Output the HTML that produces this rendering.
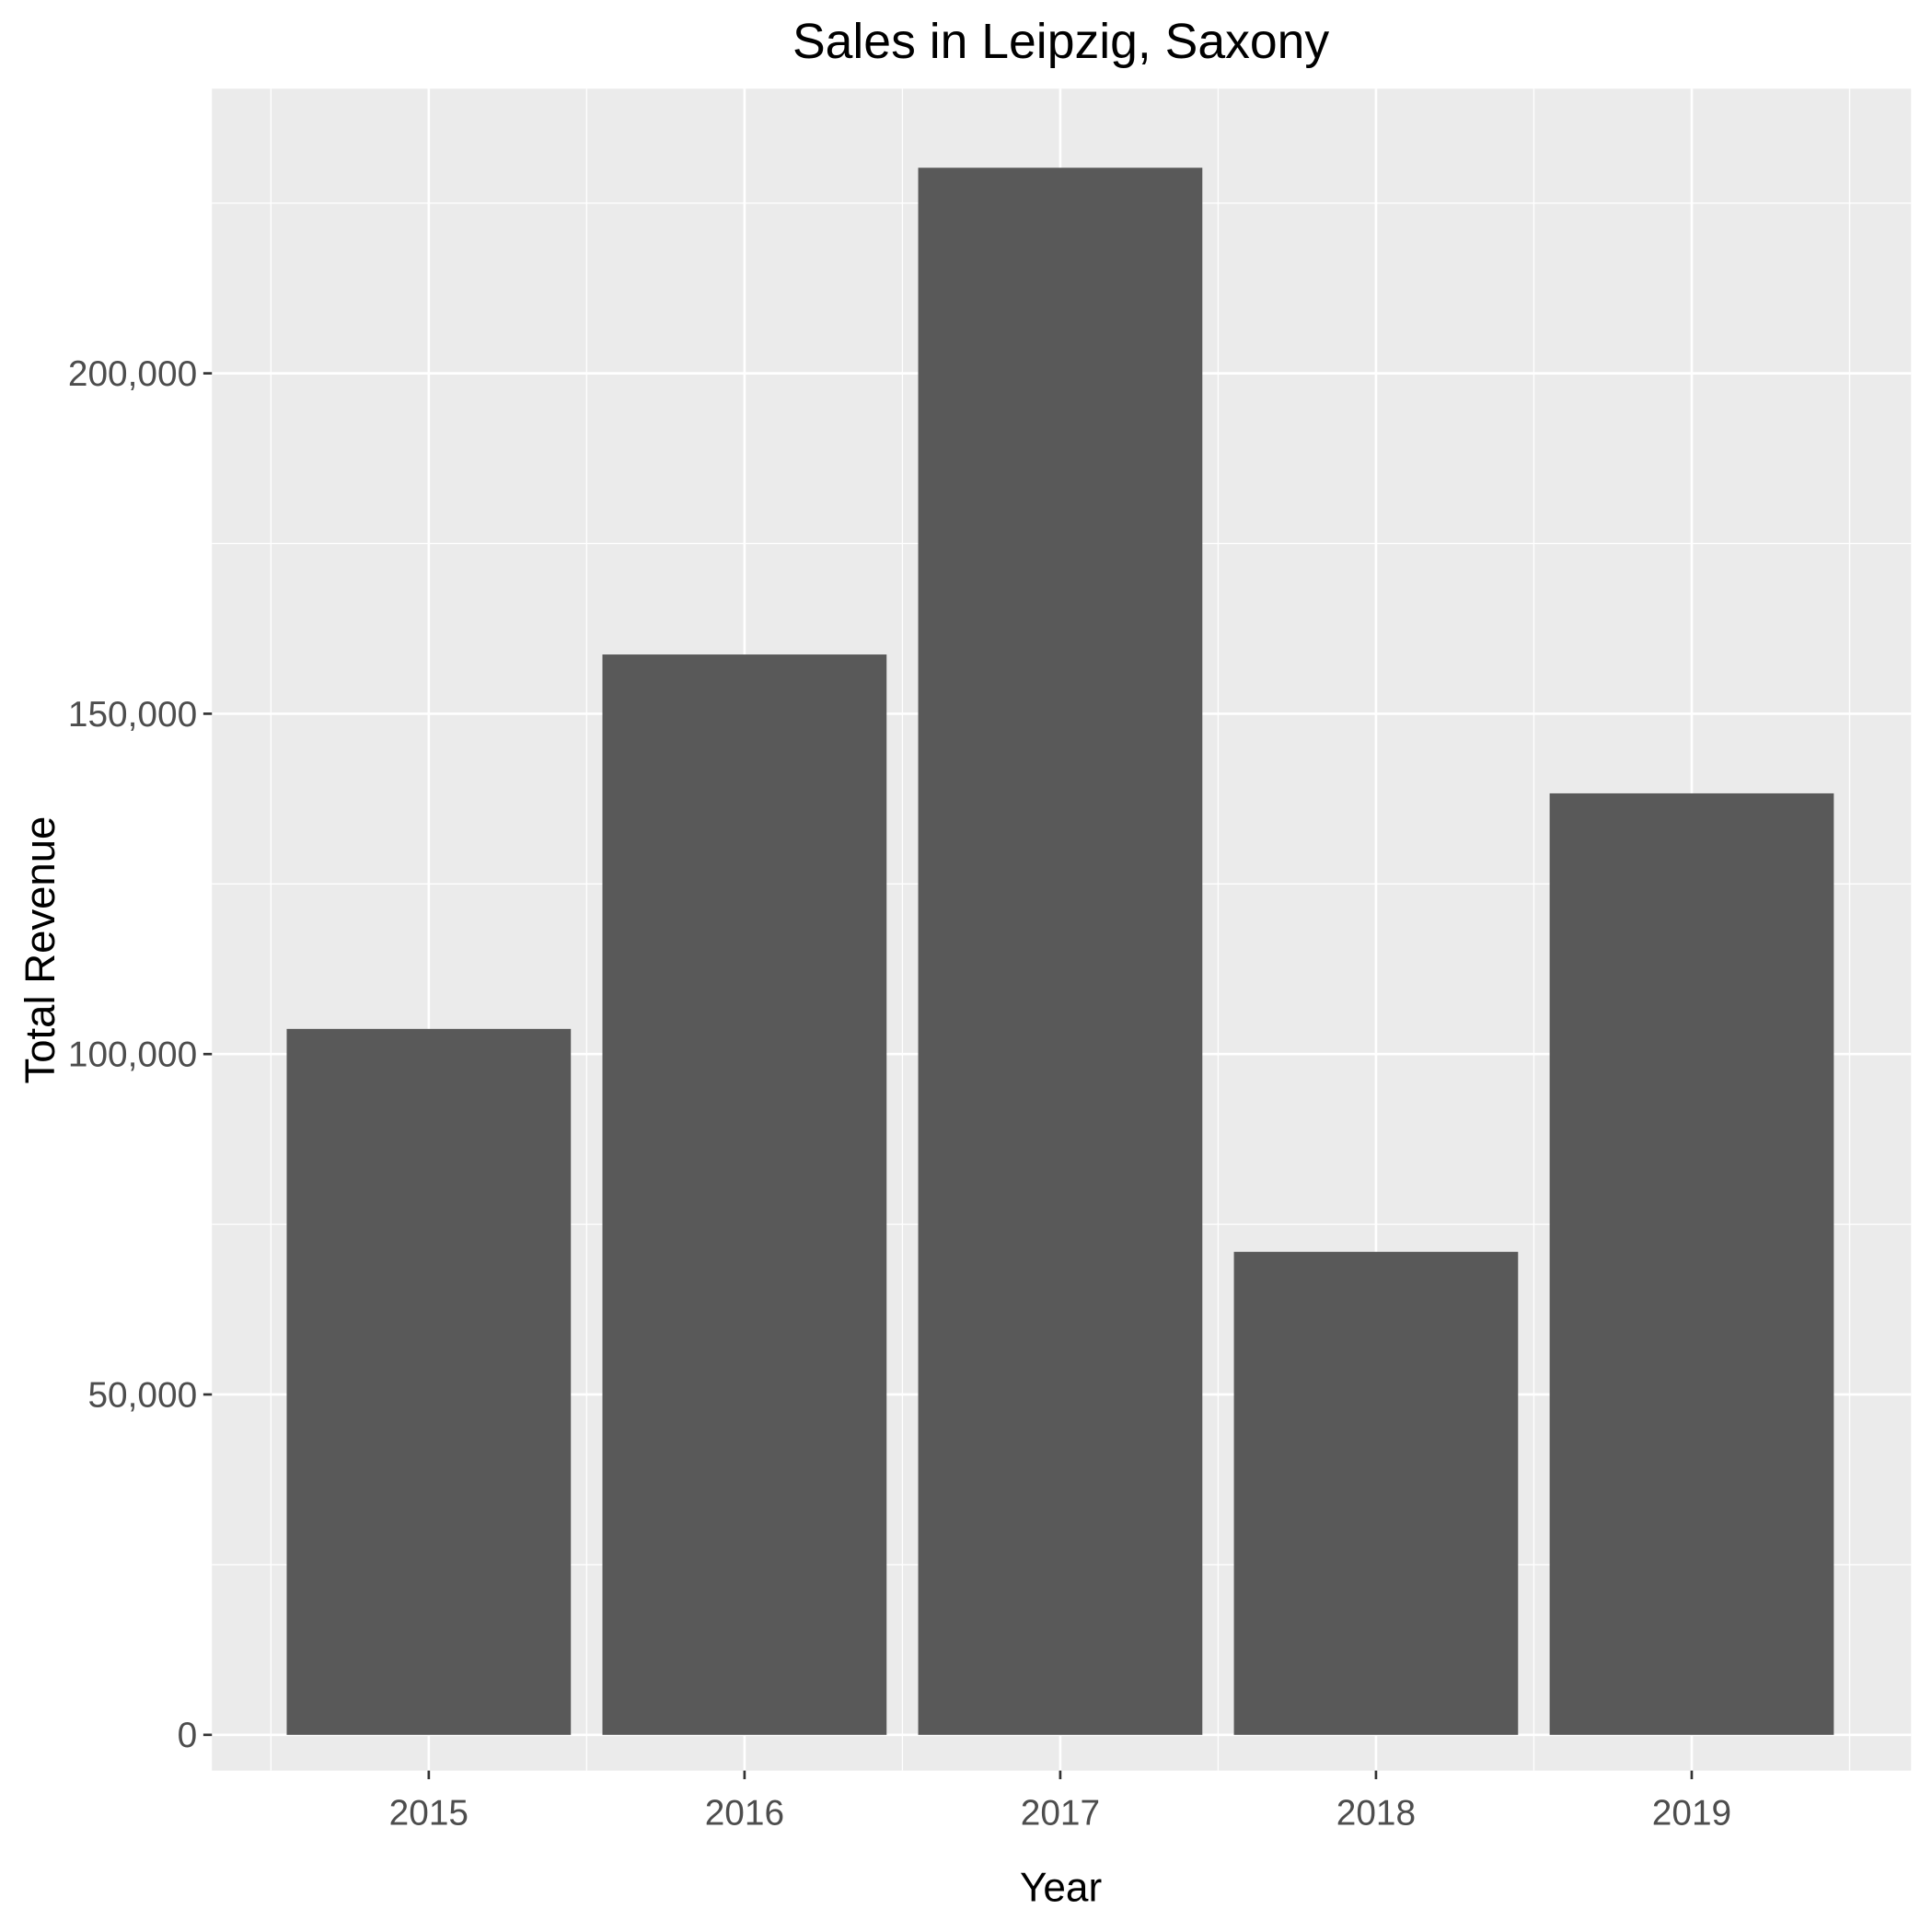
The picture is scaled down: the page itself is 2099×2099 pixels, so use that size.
<!DOCTYPE html>
<html><head><meta charset="utf-8"><style>
html,body{margin:0;padding:0;background:#fff;}
svg{display:block;font-family:"Liberation Sans",Arial,sans-serif;}
</style></head><body>
<svg id="chart" width="2099" height="2099" viewBox="0 0 1568 1568" xmlns="http://www.w3.org/2000/svg">
<rect width="1568" height="1568" fill="#fff"/>
<text x="861" y="47" font-size="40" text-anchor="middle" fill="#000">Sales in Leipzig, Saxony</text>
<text x="861" y="1543" font-size="33" text-anchor="middle" fill="#000">Year</text>
<text transform="translate(44,771) rotate(-90)" font-size="34" text-anchor="middle" fill="#000">Total Revenue</text>
<g id="plot"></g>
</svg>
<script>
const categories = ["2015","2016","2017","2018","2019"];
const revenue = [103700, 158700, 230200, 70950, 138300];
const yTicks = [0, 50000, 100000, 150000, 200000];
const yTickLabels = ["0","50,000","100,000","150,000","200,000"];
const yMinor = [25000, 75000, 125000, 175000, 225000];

const NS = "http://www.w3.org/2000/svg";
const L = 172, R = 1551, T = 72, B = 1437;
const yMin = -5250, yMax = 241810;
function yScale(v){ return B - (v - yMin) / (yMax - yMin) * (B - T); }
const n = categories.length;
const step = 256.25;
const x0 = 348;
function xScale(i){ return x0 + i * step; }
const g = document.getElementById('plot');
function mk(tag, attrs){ const e = document.createElementNS(NS, tag); for (const k in attrs) e.setAttribute(k, attrs[k]); g.appendChild(e); return e; }

let e = mk('rect', {x:L, y:T, width:R-L, height:B-T, fill:'#ebebeb'});



yMinor.forEach(v => {
  const el = mk('line', {x1:L, x2:R, y1:yScale(v), y2:yScale(v), stroke:'#fff', 'stroke-width':1});
  
  
});
for (let i = 0; i <= n; i++) {
  const x = xScale(i) - step / 2;
  const el = mk('line', {x1:x, x2:x, y1:T, y2:B, stroke:'#fff', 'stroke-width':1});
  
  
}
yTicks.forEach((v, i) => {
  const y = yScale(v);
  const el = mk('line', {x1:L, x2:R, y1:y, y2:y, stroke:'#fff', 'stroke-width':2});
  
  
  const tk = mk('line', {x1:L-7, x2:L, y1:y, y2:y, stroke:'#333', 'stroke-width':2});
  
  
  const t = mk('text', {x:L-12, y:y+10, 'font-size':29, 'text-anchor':'end', fill:'#4d4d4d'});
  t.textContent = yTickLabels[i];
  
  
});
categories.forEach((c, i) => {
  const x = xScale(i);
  const el = mk('line', {x1:x, x2:x, y1:T, y2:B, stroke:'#fff', 'stroke-width':2});
  
  
  const tk = mk('line', {x1:x, x2:x, y1:B, y2:B+7, stroke:'#333', 'stroke-width':2});
  
  
  const t = mk('text', {x:x, y:B+44, 'font-size':29, 'text-anchor':'middle', fill:'#4d4d4d'});
  t.textContent = c;
  
  
});
categories.forEach((c, i) => {
  const w = step * 0.9;
  const y0 = yScale(0), y1 = yScale(revenue[i]);
  const b = mk('rect', {x:xScale(i)-w/2, y:y1, width:w, height:y0-y1, fill:'#595959'});
  
  
});
</script>
</body></html>
